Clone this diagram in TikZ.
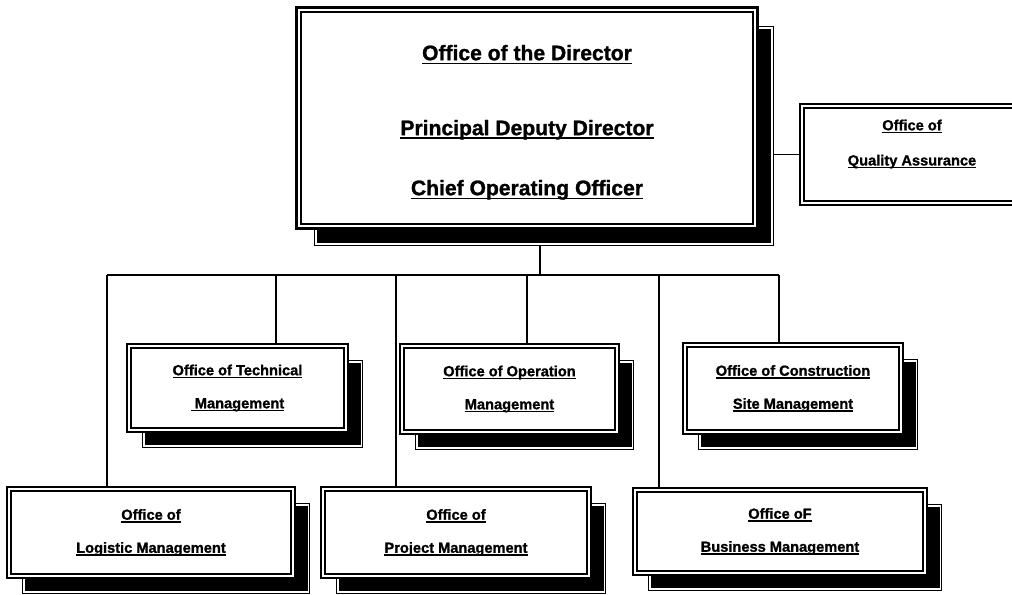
\documentclass[tikz,border=0pt]{standalone}
\usepackage{fontspec}
\setmainfont{Liberation Sans}[BoldFont={Liberation Sans Bold}, BoldFeatures={FakeBold=1.2}]
\usetikzlibrary{shadows,backgrounds}

\def\px{0.7113pt}
% underline with a heavier rule
\newcommand{\ulin}[1]{\setbox0\hbox{#1}\rlap{\rule[-0.2em]{\wd0}{0.09em}}\box0}

\tikzset{
	box/.style={draw=black, fill=white, double=white, align=center, inner sep=0pt},
	office/.style={box, line width=1.5pt, double distance=1.1pt,
		font=\bfseries\fontsize{10.4}{23.5}\selectfont},
	shade/.style={general shadow={draw=black, fill=black, double=white,
		line width=1pt, double distance=0.8pt, shadow xshift=10.7pt, shadow yshift=-11.4pt}},
	head/.style={box, line width=1.8pt, double distance=1.4pt,
		font=\bfseries\fontsize{15}{42.7}\selectfont,
		general shadow={draw=black, fill=black, double=white,
		line width=1.1pt, double distance=0.9pt, shadow xshift=12.1pt, shadow yshift=-12.8pt}},
	link/.style={draw=black, line width=1pt}
}

\begin{document}
\begin{tikzpicture}[x=0.025cm, y=-0.025cm]
	\useasboundingbox (0,0) rectangle (1012,594);
	\clip (0,0) rectangle (1012,594);

	% director
	\node[head, minimum width={456*\px}, minimum height={216*\px}] (director) at (527,118)
		{\rule{0pt}{17pt}\ulin{Office of the Director}\\[10.6pt]\ulin{Principal Deputy Director}\\\ulin{Chief Operating Officer}};
	\node[office, font=\bfseries\fontsize{10.4}{25}\selectfont, minimum width={220*\px}, minimum height={97*\px}] (qa) at (912,154.5)
		{\ulin{Office of}\\\ulin{Quality Assurance}\\[-8pt]\mbox{}};

	% first row
	\node[office, shade, minimum width={217*\px}, minimum height={84*\px}] (tech) at (237.5,388)
		{\ulin{Office of Technical}\\\ulin{ Management}};
	\node[office, shade, minimum width={215*\px}, minimum height={86*\px}] (oper) at (509.5,389)
		{\ulin{Office of Operation}\\\ulin{Management}};
	\node[office, shade, minimum width={216*\px}, minimum height={87*\px}] (constr) at (793,388.5)
		{\ulin{Office of Construction}\\\ulin{Site Management}};

	% second row
	\node[office, shade, minimum width={284*\px}, minimum height={87*\px}] (logistic) at (151,532.5)
		{\ulin{Office of}\\\ulin{Logistic Management}};
	\node[office, shade, minimum width={266*\px}, minimum height={87*\px}] (project) at (456,532.5)
		{\ulin{Office of}\\\ulin{Project Management}};
	\node[office, shade, minimum width={290*\px}, minimum height={83*\px}] (business) at (780,531.5)
		{\ulin{Office oF}\\\ulin{Business Management}};

	% connectors
	\begin{scope}[on background layer]
		\coordinate (bus) at (540,275);
		\draw[link] (director.south -| bus) -- (bus);
		\draw[link] (bus -| 107,0) -- (bus -| 779,0);
		\foreach \x/\n in {107/logistic, 276/tech, 396/project, 527/oper, 659/business, 779/constr}
			\draw[link] (bus -| \x,0) -- (\n.north -| \x,0);
		\draw[link] (director.east |- qa.west) -- (qa.west);
	\end{scope}
\end{tikzpicture}
\end{document}
